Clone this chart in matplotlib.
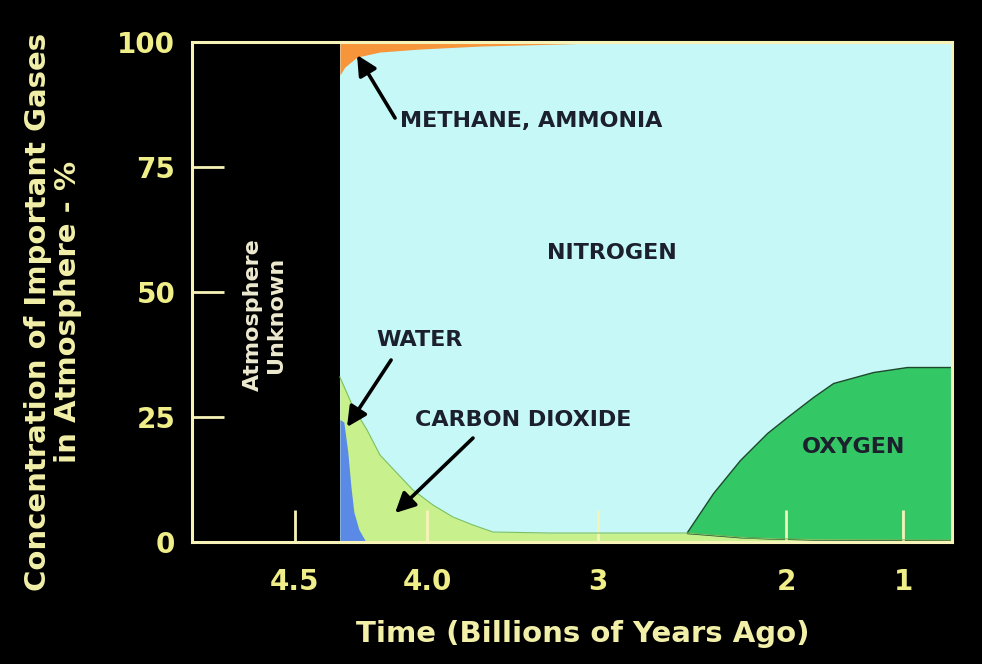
import matplotlib
matplotlib.use('Agg')
import matplotlib.pyplot as plt
import numpy as np

plt.rcParams['font.family'] = ['DejaVu Sans']

# ages are billions of years ago, values are % of the atmosphere (stacked tops)
water_age = [4.33, 4.315, 4.30, 4.288, 4.277, 4.258, 4.231]
water_pct = [24.5, 24.0, 18.0, 11.0, 6.0, 2.5, 0.0]

co2_age = [4.33, 4.28, 4.227, 4.178, 4.114, 4.053, 3.965, 3.848, 3.731, 3.614,
           3.28, 2.99, 2.527, 2.19, 1.77, 0.58]
co2_pct = [33.0, 27.0, 22.4, 17.4, 13.8, 10.4, 7.4, 5.0, 3.4, 2.0,
           1.8, 1.8, 1.8, 0.8, 0.5, 0.4]

oxygen_age = [2.527, 2.388, 2.245, 2.101, 1.991, 1.769, 1.598, 1.256, 0.966, 0.615, 0.58]
oxygen_top = [2.0, 9.8, 16.4, 21.8, 25.0, 29.0, 31.8, 34.0, 35.0, 35.0, 35.0]

methane_age = [4.33, 4.311, 4.265, 4.178, 4.027, 3.684, 3.222, 2.846]
methane_base = [93.4, 95.0, 97.0, 98.0, 98.6, 99.2, 99.6, 100.0]

nitrogen_age = [4.33, 0.58]

x_ticks = [4.5, 4.0, 3, 2, 1]
x_labels = ['4.5', '4.0', '3', '2', '1']
y_ticks = [0, 25, 50, 75, 100]

# the original time axis is not linear: piecewise mapping age -> distance
# from the right edge (increasing with age), axis is then inverted
scale_age = np.array([0.58, 1.0, 2.0, 3.0, 4.0, 4.5, 4.89])
scale_pos = np.array([0, 49, 166, 354, 525, 657, 760])


def fwd(a):
    return np.interp(np.asarray(a, dtype=float), scale_age, scale_pos)


def inv(p):
    return np.interp(np.asarray(p, dtype=float), scale_pos, scale_age)


CYAN = '#c6f8f8'
LGREEN = '#c8f08c'
GREEN = '#34c766'
BLUE = '#5b8ae6'
ORANGE = '#f7953a'
FRAME = '#f7f3b8'
LABEL = '#f0ee88'
INK = '#1b202c'

fig = plt.figure(figsize=(9.82, 6.64), dpi=100, facecolor='black')
ax = fig.add_axes([0.1955, 0.1837, 0.774, 0.753])
ax.set_facecolor('black')
ax.set_xscale('function', functions=(fwd, inv))

# nitrogen is the remainder, draw it as the backdrop
ax.fill_between(nitrogen_age, 0, 100, color=CYAN, lw=0)
ax.fill_between(co2_age, 0, co2_pct, color=LGREEN, lw=0)
ax.plot(co2_age, co2_pct, color='#7cc060', lw=0.8)
ax.fill_between(water_age, 0, water_pct, color=BLUE, lw=0)

o2_base = np.interp(-np.array(oxygen_age), -np.array(co2_age), co2_pct)
ax.fill_between(oxygen_age, o2_base, oxygen_top, facecolor=GREEN,
                edgecolor='#1d4a2c', lw=1.0)
ax.fill_between(methane_age, methane_base, 100, color=ORANGE, lw=0)

ax.set_xlim(4.89, 0.58)
ax.set_ylim(0, 100)

for s in ax.spines.values():
    s.set_color(FRAME)
    s.set_linewidth(2.2)

ax.set_xticks(x_ticks)
ax.set_xticklabels(x_labels)
ax.set_yticks(y_ticks)
ax.minorticks_off()
ax.tick_params(direction='in', length=23, width=2, color=FRAME,
               labelcolor=LABEL, labelsize=20)
ax.tick_params(axis='y', pad=12)
ax.tick_params(axis='x', pad=19)
for t in ax.get_xticklabels() + ax.get_yticklabels():
    t.set_fontweight('bold')

ax.set_xlabel('Time (Billions of Years Ago)', fontsize=21, fontweight='bold',
              color='#f2f0a8')
ax.xaxis.set_label_coords(0.514, -0.155)
ax.set_ylabel('Concentration of Important Gases\nin Atmosphere - %',
              fontsize=21, fontweight='bold', color='#f2f0a8',
              linespacing=1.1)
ax.yaxis.set_label_coords(-0.145, 0.46)

# labels inside the chart
lab = dict(fontsize=16, fontweight='bold', color=INK)
ax.text(4.102, 84.2, 'METHANE, AMMONIA', ha='left', va='center', **lab)
ax.text(2.926, 57.8, 'NITROGEN', ha='center', va='center', **lab)
ax.text(4.03, 40.4, 'WATER', ha='center', va='center', **lab)
ax.text(4.045, 24.4, 'CARBON DIOXIDE', ha='left', va='center', **lab)
ax.text(1.427, 19.0, 'OXYGEN', ha='center', va='center', **lab)
ax.text(4.614, 45.4, 'Atmosphere\nUnknown', rotation=90, ha='center',
        va='center', fontsize=16, fontweight='bold', color='#eeead0',
        linespacing=1.2)

arrow = dict(arrowstyle='-|>', color='black', lw=2.6, mutation_scale=30,
             shrinkA=0, shrinkB=0)
ax.annotate('', xy=(4.265, 97.4), xytext=(4.121, 84.8), arrowprops=arrow)
ax.annotate('', xy=(4.303, 23.0), xytext=(4.136, 36.4), arrowprops=arrow)
ax.annotate('', xy=(4.121, 5.8), xytext=(3.731, 20.8), arrowprops=arrow)

fig.savefig('out.png', dpi=100, facecolor='black')
